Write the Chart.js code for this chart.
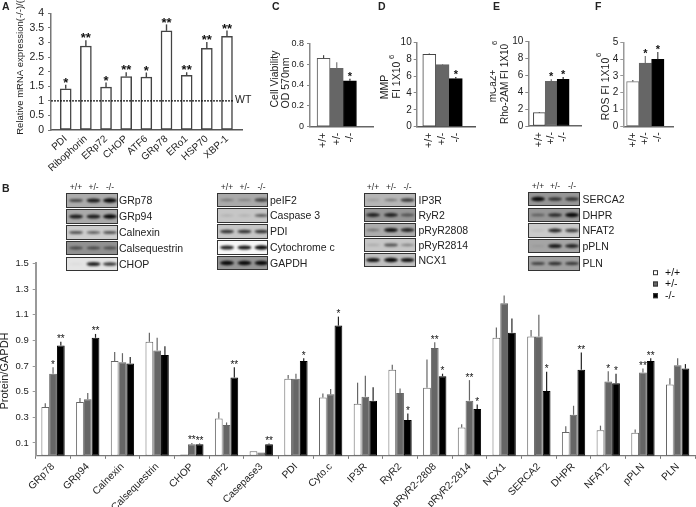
<!DOCTYPE html>
<html><head><meta charset="utf-8">
<script src="https://cdn.jsdelivr.net/npm/chart.js@4"></script>
<style>
html,body{margin:0;padding:0;background:#fff;width:696px;height:507px;overflow:hidden;font-family:"Liberation Sans",Arial,sans-serif;color:#222}
canvas{position:absolute}
.t{position:absolute;white-space:nowrap;line-height:1}
</style></head><body>
<canvas id="blots" width="696" height="507" style="left:0;top:0"></canvas>
<canvas id="cA"></canvas><canvas id="cC"></canvas><canvas id="cD"></canvas><canvas id="cE"></canvas><canvas id="cF"></canvas><canvas id="cB"></canvas>
<script>
// ---------- Panel A ----------
const catA = ['PDI','Ribophorin','ERp72','CHOP','ATF6','GRp78','ERo1','HSP70','XBP-1'];
const valA = [1.41,2.88,1.47,1.83,1.81,3.4,1.87,2.8,3.21];
const errA = [0.14,0.2,0.16,0.15,0.16,0.22,0.11,0.22,0.2];
const starA = ['*','**','*','**','*','**','**','**','**'];
// ---------- Panels C-F ----------
const genotypes = ['+/+','+/-','-/-'];
const valC = [0.656,0.56,0.44], errC = [0.03,0.058,0.02], starC = ['','','*'];
const valD = [8.58,7.35,5.7],  errD = [0.1,0.08,0.2],   starD = ['','','*'];
const valE = [1.58,5.3,5.55],  errE = [0.08,0.25,0.25], starE = ['','*','*'];
const valF = [2.66,3.77,3.99], errF = [0.1,0.42,0.44],  starF = ['','*','*'];
// ---------- Panel B ----------
const catB = ['GRp78','GRp94','Calnexin','Calsequestrin','CHOP','peIF2','Casepase3','PDI','Cyto.c','IP3R','RyR2','pRyR2-2808','pRyR2-2814','NCX1','SERCA2','DHPR','NFAT2','pPLN','PLN'];
const ticksB = [0.1,0.3,0.5,0.7,0.9,1.1,1.3,1.5];
const wtVal  = [0.38,0.42,0.74,0.89,0.01,0.29,0.035,0.60,0.455,0.405,0.67,0.53,0.22,0.92,0.93,0.185,0.20,0.18,0.555];
const wtErr  = [0.03,0.03,0.07,0.07,0,0.05,0,0.03,0.03,0.165,0.04,0.22,0.025,0.08,0.05,0.045,0.035,0.025,0.05];
const hetVal = [0.64,0.44,0.73,0.82,0.09,0.24,0.025,0.60,0.48,0.46,0.49,0.84,0.43,1.19,0.93,0.32,0.58,0.65,0.705];
const hetErr = [0.05,0.05,0.07,0.10,0.01,0.02,0,0.04,0.04,0.165,0.035,0.045,0.16,0.06,0.17,0.07,0.08,0.03,0.055];
const koVal  = [0.86,0.92,0.72,0.785,0.09,0.61,0.09,0.74,1.015,0.43,0.28,0.62,0.365,0.96,0.505,0.67,0.565,0.74,0.68];
const koErr  = [0.03,0.03,0.05,0.07,0.005,0.08,0.005,0.02,0.07,0.105,0.05,0.02,0.035,0.11,0.15,0.135,0.075,0.02,0.035];
const hetStar = ['*','','','','**','','','','','','','**','**','','','','*','**',''];
const koStar  = ['**','**','','','**','**','**','*','*','','*','*','*','','*','**','*','**',''];
// ---------- Western blots: [name, background grey, band darkness per lane] ----------
const blotCol1 = [['GRp78',172,[.6,.85,1]],['GRp94',170,[.85,.85,1]],['Calnexin',205,[.6,.55,.6]],['Calsequestrin',145,[.55,.55,.5]],['CHOP',228,[.05,.85,.75]]];
const blotCol2 = [['peIF2',170,[.3,.25,.65]],['Caspase 3',198,[.12,.12,.55]],['PDI',198,[.75,.75,.75]],['Cytochrome c',246,[.85,.9,1]],['GAPDH',150,[1,1,1]]];
const blotCol3 = [['IP3R',182,[.15,.35,.7]],['RyR2',150,[.8,.8,.5]],['pRyR2808',172,[.35,.9,.8]],['pRyR2814',198,[.15,.6,.35]],['NCX1',192,[.9,1,.9]]];
const blotCol4 = [['SERCA2',150,[1,.7,.7]],['DHPR',150,[.4,.75,1]],['NFAT2',202,[.1,.8,.7]],['pPLN',165,[.1,.85,.8]],['PLN',160,[.6,.7,.65]]];

const FF = '"Liberation Sans", Arial, sans-serif';
const WHITE='#ffffff', GREY='#666666', BLACK='#000000';

Chart.register({
  id:'extras',
  afterDatasetsDraw(chart,_a,o){
    const ctx=chart.ctx, yS=chart.scales.y;
    ctx.save();
    chart.data.datasets.forEach((ds,di)=>{
      const meta=chart.getDatasetMeta(di);
      meta.data.forEach((bar,i)=>{
        const v=ds.vals[i], e=ds.errs[i]||0, top=yS.getPixelForValue(v+e);
        if(e>0){
          const c=Array.isArray(ds.errColor)?ds.errColor[i]:ds.errColor;
          ctx.strokeStyle=c; ctx.lineWidth=o.errW||1.2;
          ctx.beginPath(); ctx.moveTo(bar.x,yS.getPixelForValue(v)); ctx.lineTo(bar.x,top); ctx.stroke();
        }
        const s=ds.stars&&ds.stars[i];
        if(s){
          ctx.fillStyle='#111'; ctx.font=(o.starWeight||'bold')+' '+o.starSize+'px '+FF;
          ctx.textAlign='center'; ctx.textBaseline='alphabetic';
          ctx.fillText(s,bar.x,top-o.starGap+0.55*o.starSize);
        }
      });
    });
    ctx.restore();
  },
  afterDraw(chart,_a,o){
    const ctx=chart.ctx, c=chart.canvas, L=c.offsetLeft, T=c.offsetTop;
    ctx.save();
    if(o.refLine!==undefined){
      const y=chart.scales.y.getPixelForValue(o.refLine);
      ctx.strokeStyle='#111'; ctx.lineWidth=1.2; ctx.setLineDash([2,1]);
      ctx.beginPath(); ctx.moveTo(chart.chartArea.left,y); ctx.lineTo(o.refEnd-L,y); ctx.stroke(); ctx.setLineDash([]);
    }
    (o.notes||[]).forEach(n=>{
      ctx.save();
      ctx.translate(n.x-L,n.y-T); ctx.rotate((n.rot||0)*Math.PI/180);
      ctx.font=(n.font||'10px')+' '+FF; ctx.fillStyle=n.color||'#222';
      ctx.textAlign=n.align||'center'; ctx.textBaseline='middle';
      ctx.fillText(n.text,0,0); ctx.restore();
    });
    (o.legend||[]).forEach(n=>{
      ctx.fillStyle=n.fill; ctx.strokeStyle='#333'; ctx.lineWidth=1;
      ctx.fillRect(n.x-L,n.y-T-2.5,5,5); ctx.strokeRect(n.x-L+.5,n.y-T-2,4,4);
      ctx.font='10.5px '+FF; ctx.fillStyle='#111'; ctx.textAlign='left'; ctx.textBaseline='middle';
      ctx.fillText(n.text,n.x-L+12,n.y-T);
    });
    ctx.restore();
  }
});

function place(id,left,top,width,height){
  const c=document.getElementById(id);
  c.width=width;c.height=height;
  c.style.left=left+'px';c.style.top=top+'px';c.style.width=width+'px';c.style.height=height+'px';
  return c;
}
function fitY(w){return s=>{s.width=w;s.paddingTop=0;s.paddingBottom=0;};}
function fitX(h){return s=>{s.height=h;s.paddingLeft=0;s.paddingRight=0;};}

function smallBar(cfg){
  const {id,left,top,width,height,plot,cats,vals,errs,stars,colors,ymax,step,xmin,xmax,thick,rot,tickFont,xFont,xPad,axisColor,yAxisColor,starSize,starGap,notes,borderW,borderC,errC,refLine,refEnd,yPad,errW}=cfg;
  const c=place(id,left,top,width,height);
  return new Chart(c,{type:'bar',
    data:{datasets:[{data:vals.map((y,x)=>({x,y})),vals,errs,stars,errColor:errC,
      backgroundColor:colors,borderColor:borderC,borderWidth:borderW,barThickness:thick,borderSkipped:false}]},
    options:{responsive:false,animation:false,devicePixelRatio:1,
      layout:{padding:{top:plot.t-top,right:left+width-plot.r,left:0,bottom:0}},
      plugins:{legend:{display:false},tooltip:{enabled:false},extras:{notes,starSize,starGap,refLine,refEnd,errW}},
      scales:{
        x:{type:'linear',min:xmin,max:xmax,bounds:'data',offset:false,
          afterBuildTicks:s=>{s.ticks=cats.map((_,i)=>({value:i}));},
          afterFit:fitX(top+height-plot.b),
          grid:{display:true,drawOnChartArea:false,drawTicks:false,tickLength:0},
          border:{display:true,color:axisColor,width:1.5},
          ticks:{autoSkip:false,maxRotation:rot,minRotation:rot,padding:xPad,color:'#222',font:{family:FF,size:xFont},callback:v=>cats[v]}},
        y:{min:0,max:ymax,bounds:'data',
          afterBuildTicks:s=>{const t=[];for(let i=0;i<=Math.round(ymax/step);i++)t.push({value:+(i*step).toFixed(2)});s.ticks=t;},
          afterFit:fitY(plot.l-left),
          grid:{display:true,drawOnChartArea:false,drawTicks:true,tickLength:3,color:yAxisColor},
          border:{display:true,color:yAxisColor,width:1.5},
          ticks:{padding:yPad,color:'#222',autoSkip:false,font:{family:FF,size:tickFont},callback:v=>String(v)}}
      }}});
}

smallBar({id:'cA',left:0,top:0,width:260,height:175,plot:{l:51,t:13.3,r:242,b:130},cats:catA,vals:valA,errs:errA,stars:starA,
  colors:WHITE,ymax:4,step:.5,xmin:-0.73,xmax:8.745,thick:11,rot:42,tickFont:10.5,xFont:10,xPad:3,axisColor:'#555',yAxisColor:'#777',
  starSize:13,starGap:5,borderW:1.5,borderC:'#444',errC:'#444',refLine:1,refEnd:233,yPad:4,errW:1.4,
  notes:[{text:'Relative mRNA expression(-/-)/(+/+)',x:20,y:59,rot:-90,font:'9.5px'},{text:'WT',x:235,y:100,align:'left',font:'10.5px'}]});

const genoColors=[WHITE,GREY,BLACK];
smallBar({id:'cC',left:268,top:25,width:110,height:125,plot:{l:310,t:43.3,r:373,b:126.7},cats:genotypes,vals:valC,errs:errC,stars:starC,
  colors:genoColors,ymax:.8,step:.2,xmin:-1.03,xmax:3.75,thick:13,rot:90,tickFont:9,xFont:10.5,xPad:6,axisColor:'#666',yAxisColor:'#888',
  starSize:11,starGap:5,borderW:1,borderC:['#555','#666','#000'],errC:['#444','#777','#222'],yPad:3,
  notes:[{text:'Cell Viability',x:275,y:79,rot:-90,font:'10.5px'},{text:'OD 570nm',x:286.5,y:83,rot:-90,font:'10.5px'}]});
smallBar({id:'cD',left:378,top:25,width:105,height:125,plot:{l:416.7,t:42.3,r:475.7,b:126.7},cats:genotypes,vals:valD,errs:errD,stars:starD,
  colors:genoColors,ymax:10,step:2,xmin:-0.95,xmax:3.5,thick:13,rot:90,tickFont:10,xFont:10.5,xPad:6,axisColor:'#555',yAxisColor:'#888',
  starSize:11,starGap:5,borderW:1,borderC:['#444','#666','#000'],errC:['#444','#666','#222'],yPad:2,
  notes:[{text:'MMP',x:385,y:87,rot:-90,font:'10.5px'},{text:'FI 1X10',x:397,y:80,rot:-90,font:'10.5px'},{text:'6',x:391.5,y:57,rot:-90,font:'7.5px'}]});
smallBar({id:'cE',left:490,top:25,width:98,height:125,plot:{l:528.3,t:41.7,r:581,b:126},cats:genotypes,vals:valE,errs:errE,stars:starE,
  colors:genoColors,ymax:10,step:2,xmin:-0.93,xmax:3.5,thick:12,rot:90,tickFont:10,xFont:10.5,xPad:6,axisColor:'#666',yAxisColor:'#888',
  starSize:11,starGap:5,borderW:1,borderC:['#444','#666','#000'],errC:['#444','#666','#222'],yPad:2,
  notes:[{text:'mCa2+',x:493.5,y:86,rot:-90,font:'10px'},{text:'Rho-2AM FI 1X10',x:505.5,y:84,rot:-90,font:'10px'},{text:'6',x:495,y:43,rot:-90,font:'7.5px'}]});
smallBar({id:'cF',left:595,top:25,width:85,height:125,plot:{l:623.3,t:42.3,r:673.3,b:126.3},cats:genotypes,vals:valF,errs:errF,stars:starF,
  colors:genoColors,ymax:5,step:1,xmin:-0.76,xmax:3.24,thick:12.4,rot:90,tickFont:10,xFont:10.5,xPad:6,axisColor:'#666',yAxisColor:'#999',
  starSize:11,starGap:5,borderW:1,borderC:['#777','#666','#000'],errC:['#555','#777','#444'],yPad:2,
  notes:[{text:'ROS FI 1X10',x:606.5,y:89,rot:-90,font:'10.5px'},{text:'6',x:599,y:55,rot:-90,font:'7.5px'}]});

// Panel B
(function(){
  const left=0,top=258,width=696,height=249,pl=35.7,pr=695,pt=263.4,pb=455.8;
  const c=place('cB',left,top,width,height);
  const ds=(label,vals,errs,stars,bg,bc,ec)=>({label,data:vals,vals,errs,stars,backgroundColor:bg,borderColor:bc,borderWidth:1,borderSkipped:false,errColor:ec,barPercentage:1,categoryPercentage:.672});
  new Chart(c,{type:'bar',
    data:{labels:catB,datasets:[
      ds('+/+',wtVal,wtErr,null,WHITE,'#666','#666'),
      ds('+/-',hetVal,hetErr,hetStar,GREY,GREY,'#666'),
      ds('-/-',koVal,koErr,koStar,BLACK,BLACK,'#222')]},
    options:{responsive:false,animation:false,devicePixelRatio:1,
      layout:{padding:{top:pt-top,right:left+width-pr,left:0,bottom:0}},
      plugins:{legend:{display:false},tooltip:{enabled:false},extras:{starSize:10,starGap:5,starWeight:'normal',errW:1.2,
        notes:[{text:'Protein/GAPDH',x:4.5,y:371,rot:-90,font:'11px'}],
        legend:[{text:'+/+',x:653,y:272.7,fill:WHITE},{text:'+/-',x:653,y:284,fill:GREY},{text:'-/-',x:653,y:295.7,fill:BLACK}]}},
      scales:{
        x:{afterFit:fitX(top+height-pb),offset:true,
          grid:{display:true,offset:true,drawOnChartArea:false,drawTicks:true,tickLength:3,color:'#777'},
          border:{display:true,color:'#777',width:1.2},
          ticks:{autoSkip:false,maxRotation:45,minRotation:45,padding:2,color:'#222',font:{family:FF,size:10.2}}},
        y:{min:0,max:1.5,bounds:'data',
          afterBuildTicks:s=>{s.ticks=ticksB.map(value=>({value}));},
          afterFit:fitY(pl-left),
          grid:{display:true,drawOnChartArea:false,drawTicks:true,tickLength:3,color:'#999'},
          border:{display:true,color:'#999',width:2},
          ticks:{padding:4,color:'#222',autoSkip:false,font:{family:FF,size:9.5},callback:v=>v.toFixed(1)}}
      }}});
})();

// Western blots
const bctx=document.getElementById('blots').getContext('2d');
function txt(s,x,y,size,weight,center){
  const d=document.createElement('div');d.className='t';d.textContent=s;
  d.style.fontSize=size+'px';d.style.left=x+'px';d.style.top=(y-size/2)+'px';
  if(weight)d.style.fontWeight=weight;
  if(center)d.style.transform='translateX(-50%)';
  document.body.appendChild(d);
}
function blot(rows,x0,x1,rowY,lanes,labelX){
  genotypes.forEach((g,i)=>txt(g,lanes[i],rowY[0][0]-6,8.5,'',true));
  rows.forEach((r,i)=>{
    const [name,bg,dark]=r,[y0,y1]=rowY[i];
    bctx.save();
    bctx.beginPath();bctx.rect(x0,y0,x1-x0,y1-y0);bctx.clip();
    bctx.fillStyle='rgb('+bg+','+bg+','+bg+')';bctx.fillRect(x0,y0,x1-x0,y1-y0);
    bctx.filter='blur(0.8px)';
    dark.forEach((d,j)=>{
      bctx.fillStyle='rgba(10,10,10,'+Math.min(1,d*1.05)+')';
      bctx.beginPath();bctx.ellipse(lanes[j],(y0+y1)/2,7,0.7+d*1.5,0,0,Math.PI*2);bctx.fill();
    });
    bctx.restore();
    bctx.strokeStyle='#333';bctx.lineWidth=1;bctx.strokeRect(x0+.5,y0+.5,x1-x0-1,y1-y0-1);
    txt(name,labelX,(y0+y1)/2,10.5);
  });
}
blot(blotCol1,66,118,[[193,208],[209,224],[225,240],[241,255],[257,271]],[76,93.5,110],119);
blot(blotCol2,217,268,[[193,207],[208,223],[224,239],[240,255],[256,270]],[227,244.5,261.5],270);
blot(blotCol3,364,416,[[193,207],[208,222],[223,237],[238,252],[253,267]],[373,391,407.5],418.5);
blot(blotCol4,528,580,[[192,206],[208,222],[223,238],[239,253],[256,271]],[538,555,572],582.5);

// Panel letters
[['A',2,6],['B',2,188],['C',272,6],['D',378,6],['E',493,6],['F',595,6]].forEach(a=>txt(a[0],a[1],a[2],10.5,'bold'));
</script>
</body></html>
